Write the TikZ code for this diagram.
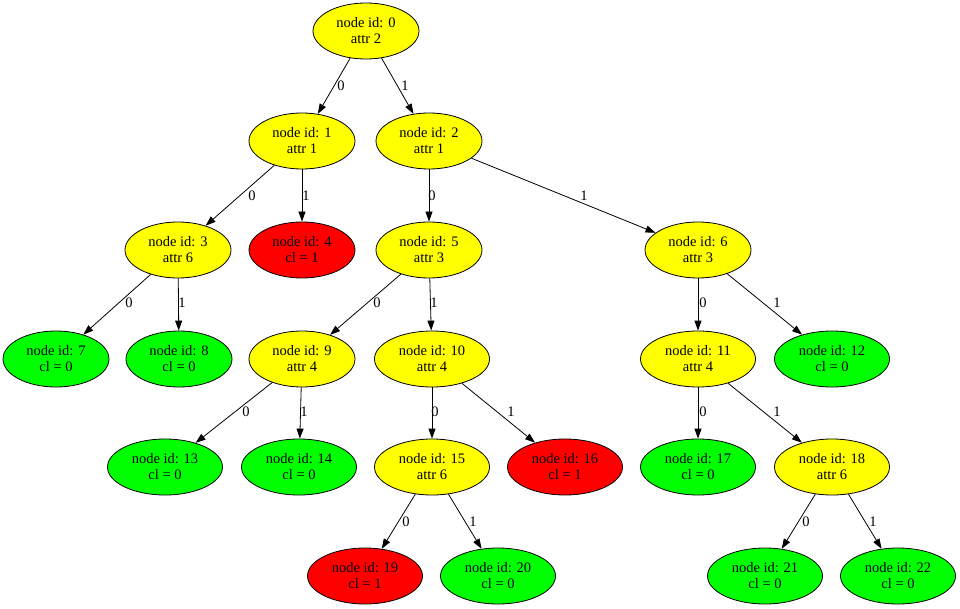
\documentclass[tikz,border=0pt]{standalone}
\usepackage{fontspec}
\setmainfont{Liberation Serif}
\usetikzlibrary{shapes.geometric,arrows.meta}
\definecolor{gvyellow}{RGB}{255,255,0}
\definecolor{gvgreen}{RGB}{0,255,0}
\definecolor{gvred}{RGB}{255,0,0}
\begin{document}
\begin{tikzpicture}[x=1pt,y=-1pt,
  tn/.style={ellipse,draw=black,line width=0.8pt,inner sep=0pt,minimum height=56pt,minimum width=106pt,align=center,font=\fontsize{14.5}{16}\selectfont},
  wide/.style={minimum width=115pt},
  yel/.style={tn,fill=gvyellow},
  grn/.style={tn,fill=gvgreen},
  rd/.style={tn,fill=gvred},
  ed/.style={draw=black,line width=0.8pt,-{Triangle[length=10pt,width=7pt]}},
  lb/.style={font=\fontsize{14.5}{16}\selectfont,inner sep=0pt}]
\useasboundingbox (0,0) rectangle (960,609);
\node[yel] (n0) at (366,31) {node id: 0\\attr 2};
\node[yel] (n1) at (302,141) {node id: 1\\attr 1};
\node[yel] (n2) at (429,141) {node id: 2\\attr 1};
\node[yel] (n3) at (178,250) {node id: 3\\attr 6};
\node[rd] (n4) at (302,250) {node id: 4\\cl = 1};
\node[yel] (n5) at (429,250) {node id: 5\\attr 3};
\node[yel] (n6) at (698,250) {node id: 6\\attr 3};
\node[grn] (n7) at (56,359) {node id: 7\\cl = 0};
\node[grn] (n8) at (179,359) {node id: 8\\cl = 0};
\node[yel] (n9) at (302,359) {node id: 9\\attr 4};
\node[yel,wide] (n10) at (432,359) {node id: 10\\attr 4};
\node[yel,wide] (n11) at (698,359) {node id: 11\\attr 4};
\node[grn,wide] (n12) at (832,359) {node id: 12\\cl = 0};
\node[grn,wide] (n13) at (165,467) {node id: 13\\cl = 0};
\node[grn,wide] (n14) at (299,467) {node id: 14\\cl = 0};
\node[yel,wide] (n15) at (432,467) {node id: 15\\attr 6};
\node[rd,wide] (n16) at (565,467) {node id: 16\\cl = 1};
\node[grn,wide] (n17) at (698,467) {node id: 17\\cl = 0};
\node[yel,wide] (n18) at (832,467) {node id: 18\\attr 6};
\node[rd,wide] (n19) at (365,576) {node id: 19\\cl = 1};
\node[grn,wide] (n20) at (498,576) {node id: 20\\cl = 0};
\node[grn,wide] (n21) at (765,576) {node id: 21\\cl = 0};
\node[grn,wide] (n22) at (898,576) {node id: 22\\cl = 0};
\draw[ed] (n0) -- (n1);
\draw[ed] (n0) -- (n2);
\draw[ed] (n1) -- (n3);
\draw[ed] (n1) -- (n4);
\draw[ed] (n2) -- (n5);
\draw[ed] (n2) -- (n6);
\draw[ed] (n3) -- (n7);
\draw[ed] (n3) -- (n8);
\draw[ed] (n5) -- (n9);
\draw[ed] (n5) -- (n10);
\draw[ed] (n6) -- (n11);
\draw[ed] (n6) -- (n12);
\draw[ed] (n9) -- (n13);
\draw[ed] (n9) -- (n14);
\draw[ed] (n10) -- (n15);
\draw[ed] (n10) -- (n16);
\draw[ed] (n11) -- (n17);
\draw[ed] (n11) -- (n18);
\draw[ed] (n15) -- (n19);
\draw[ed] (n15) -- (n20);
\draw[ed] (n18) -- (n21);
\draw[ed] (n18) -- (n22);
\node[lb] (l01) at (341,86) {0};
\node[lb] (l02) at (405,86) {1};
\node[lb] (l13) at (252,196) {0};
\node[lb] (l14) at (306,196) {1};
\node[lb] (l25) at (432,196) {0};
\node[lb] (l26) at (584,196) {1};
\node[lb] (l37) at (129,303) {0};
\node[lb] (l38) at (182,303) {1};
\node[lb] (l59) at (377,303) {0};
\node[lb] (l510) at (434,303) {1};
\node[lb] (l611) at (703,303) {0};
\node[lb] (l612) at (777,303) {1};
\node[lb] (l913) at (246,412) {0};
\node[lb] (l914) at (304,412) {1};
\node[lb] (l1015) at (435,412) {0};
\node[lb] (l1016) at (511,412) {1};
\node[lb] (l1117) at (703,412) {0};
\node[lb] (l1118) at (777,412) {1};
\node[lb] (l1519) at (406,522) {0};
\node[lb] (l1520) at (473,522) {1};
\node[lb] (l1821) at (806,522) {0};
\node[lb] (l1822) at (873,522) {1};
\end{tikzpicture}
\end{document}
